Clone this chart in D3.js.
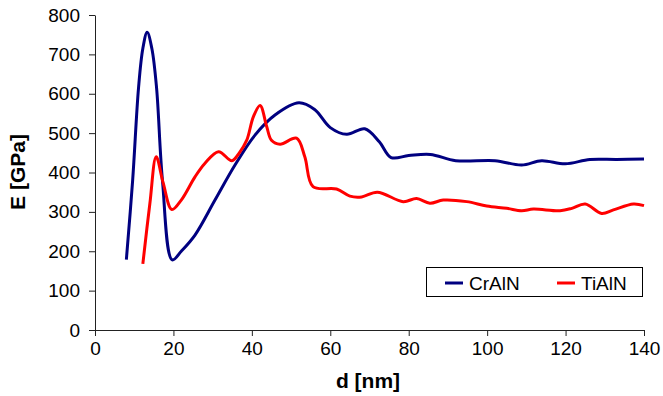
<!DOCTYPE html>
<html>
<head>
<meta charset="utf-8">
<script src="https://cdn.jsdelivr.net/npm/d3@7"></script>
<style>
  body { margin: 0; background: #fff; }
  text { font-family: "Liberation Sans", Arial, sans-serif; }
</style>
</head>
<body>
<svg id="chart"></svg>
<script>
const crD = [8, 9.6, 11.1, 12.2, 13.3, 14.5, 15.7, 17.2, 19.7, 22, 25.5, 30.6, 35.7, 40.8, 45.9, 52, 56, 60, 64.2, 68.8, 72.5, 75.5, 80, 85.5, 92, 102, 108.8, 113.9, 119.9, 126.2, 133, 140];
const crE = [179, 380, 615, 715, 756, 715, 615, 380, 178, 200, 241, 330, 419, 495, 546, 577, 560, 514, 497, 511, 478, 438, 443, 446, 430, 430, 419, 430, 422, 433, 433, 434];

const tiD = [12.2, 14, 15.6, 17.4, 19.6, 22, 25.5, 28, 31.5, 34.9, 36.8, 38.7, 40.4, 42.1, 43.8, 45, 47.2, 51.4, 53.5, 55.6, 61.6, 65, 68, 72, 78.6, 82, 85.4, 88.8, 94.8, 99.9, 105, 108.8, 111.8, 118.6, 121.6, 125, 129.2, 132.2, 137.3, 140];
const tiE = [168, 322, 440, 373, 306, 330, 389, 423, 453, 430, 450, 482, 542, 570, 516, 482, 472, 487, 440, 364, 358, 340, 338, 350, 326, 334, 322, 330, 326, 315, 309, 303, 307, 303, 309, 320, 296, 305, 320, 316];

const seriesNames = ["CrAlN", "TiAlN"];
const xTicks = [0, 20, 40, 60, 80, 100, 120, 140];
const yTicks = [0, 100, 200, 300, 400, 500, 600, 700, 800];

const width = 663;
const height = 396;
const margin = { top: 15, right: 19, bottom: 66, left: 95 };

const svg = d3.select("#chart")
  .attr("width", width)
  .attr("height", height);

const x = d3.scaleLinear()
  .domain([0, 140])
  .range([margin.left, width - margin.right]);

const y = d3.scaleLinear()
  .domain([0, 800])
  .range([height - margin.bottom, margin.top]);

const xAxis = svg.append("g")
  .attr("transform", `translate(0, ${height - margin.bottom})`)
  .call(d3.axisBottom(x).tickValues(xTicks).tickSize(6).tickPadding(6).tickSizeOuter(0));

const yAxis = svg.append("g")
  .attr("transform", `translate(${margin.left}, 0)`)
  .call(d3.axisLeft(y).tickValues(yTicks).tickSize(6).tickPadding(9).tickSizeOuter(0));

[xAxis, yAxis].forEach(g => {
  g.selectAll("path, line").attr("stroke", "#222");
  g.selectAll("text")
    .attr("fill", "#000")
    .style("font-family", "'Liberation Sans', Arial, sans-serif")
    .style("font-size", "19px");
});

const line = d3.line()
  .x(d => x(d[0]))
  .y(d => y(d[1]))
  .curve(d3.curveCatmullRom.alpha(0.5));

const series = [
  { name: seriesNames[0], color: "#000080", pts: d3.zip(crD, crE) },
  { name: seriesNames[1], color: "#ff0000", pts: d3.zip(tiD, tiE) }
];

series.forEach(s => {
  svg.append("path")
    .datum(s.pts)
    .attr("fill", "none")
    .attr("stroke", s.color)
    .attr("stroke-width", 3)
    .attr("stroke-linejoin", "round")
    .attr("d", line);
});

// axis titles
svg.append("text")
  .attr("x", 368)
  .attr("y", 388)
  .attr("text-anchor", "middle")
  .style("font-weight", "bold")
  .style("font-size", "21px")
  .text("d [nm]");

svg.append("text")
  .attr("transform", "translate(25, 172) rotate(-90)")
  .attr("text-anchor", "middle")
  .style("font-weight", "bold")
  .style("font-size", "21px")
  .text("E [GPa]");

// legend
const legend = svg.append("g");
legend.append("rect")
  .attr("x", 426.5)
  .attr("y", 267.5)
  .attr("width", 216)
  .attr("height", 29)
  .attr("fill", "#fff")
  .attr("stroke", "#000")
  .attr("stroke-width", 1);

const legendX = [445, 557];
series.forEach((s, i) => {
  legend.append("line")
    .attr("x1", legendX[i]).attr("x2", legendX[i] + 18)
    .attr("y1", 283).attr("y2", 283)
    .attr("stroke", s.color)
    .attr("stroke-width", 3);
  legend.append("text")
    .attr("x", legendX[i] + 24)
    .attr("y", 290)
    .style("font-size", "19px")
    .text(s.name);
});
</script>
</body>
</html>
